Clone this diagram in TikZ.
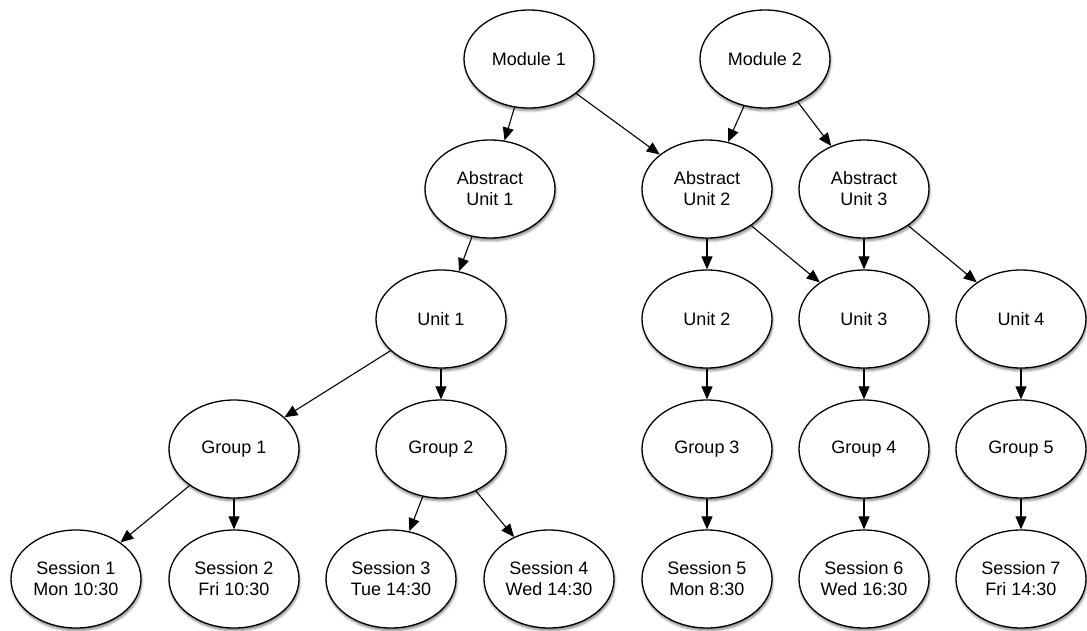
\documentclass[tikz,border=0pt]{standalone}
\usepackage{fontspec}
\setmainfont{Liberation Sans}
\usetikzlibrary{shapes.geometric,arrows.meta,shadows.blur}
\begin{document}
\begin{tikzpicture}[x=1pt,y=-1pt,
  item/.style={ellipse,draw=black,line width=1.3pt,fill=white,
    minimum width=130pt,minimum height=98pt,inner sep=0pt,align=center,
    font=\fontsize{18}{21}\selectfont,
    blur shadow={shadow xshift=0.8pt,shadow yshift=-2.6pt,
      shadow blur radius=2.4pt,shadow opacity=50}},
  link/.style={line width=1.1pt,-{Triangle[length=13pt,width=11pt]}}]
\useasboundingbox (0,0) rectangle (1087,630);

% modules
\node[item] (m1) at (529,59) {Module 1};
\node[item] (m2) at (765,59) {Module 2};
% abstract units
\node[item] (a1) at (490,189) {Abstract\\Unit 1};
\node[item] (a2) at (707,189) {Abstract\\Unit 2};
\node[item] (a3) at (864,189) {Abstract\\Unit 3};
% units
\node[item] (u1) at (441,319) {Unit 1};
\node[item] (u2) at (707,319) {Unit 2};
\node[item] (u3) at (864,319) {Unit 3};
\node[item] (u4) at (1021,319) {Unit 4};
% groups
\node[item] (g1) at (234,449) {Group 1};
\node[item] (g2) at (441,449) {Group 2};
\node[item] (g3) at (707,449) {Group 3};
\node[item] (g4) at (864,449) {Group 4};
\node[item] (g5) at (1021,449) {Group 5};
% sessions
\node[item] (s1) at (76,579) {Session 1\\Mon 10:30};
\node[item] (s2) at (234,579) {Session 2\\Fri 10:30};
\node[item] (s3) at (391,579) {Session 3\\Tue 14:30};
\node[item] (s4) at (549,579) {Session 4\\Wed 14:30};
\node[item] (s5) at (707,579) {Session 5\\Mon 8:30};
\node[item] (s6) at (864,579) {Session 6\\Wed 16:30};
\node[item] (s7) at (1021,579) {Session 7\\Fri 14:30};

% hierarchy links
\draw[link] (m1) -- (a1);
\draw[link] (m1) -- (a2);
\draw[link] (m2) -- (a2);
\draw[link] (m2) -- (a3);
\draw[link] (a1) -- (u1);
\draw[link] (a2) -- (u2);
\draw[link] (a2) -- (u3);
\draw[link] (a3) -- (u3);
\draw[link] (a3) -- (u4);
\draw[link] (u1) -- (g1);
\draw[link] (u1) -- (g2);
\draw[link] (u2) -- (g3);
\draw[link] (u3) -- (g4);
\draw[link] (u4) -- (g5);
\draw[link] (g1) -- (s1);
\draw[link] (g1) -- (s2);
\draw[link] (g2) -- (s3);
\draw[link] (g2) -- (s4);
\draw[link] (g3) -- (s5);
\draw[link] (g4) -- (s6);
\draw[link] (g5) -- (s7);
\end{tikzpicture}
\end{document}
